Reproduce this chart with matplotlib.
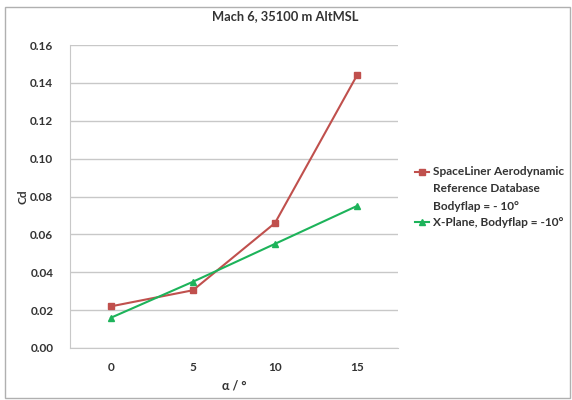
import matplotlib
matplotlib.use("Agg")
import matplotlib.pyplot as plt
from matplotlib.lines import Line2D
from matplotlib.patches import Rectangle

# angle of attack categories and drag coefficients
alpha = ["0", "5", "10", "15"]
cd_spaceliner = [0.022, 0.0305, 0.066, 0.144]
cd_xplane = [0.016, 0.035, 0.055, 0.075]
yticks = [0.00, 0.02, 0.04, 0.06, 0.08, 0.10, 0.12, 0.14, 0.16]

red = "#C0504D"
green = "#1DB35A"
txt = "#333333"
plt.rcParams["font.family"] = ["Lato", "DejaVu Sans"]
plt.rcParams["font.weight"] = "bold"

fig = plt.figure(figsize=(5.72, 4.0), dpi=100)
W, H = 572.0, 400.0
ax = fig.add_axes([70 / W, 1 - 348 / H, 328 / W, 303 / H])

xs = list(range(len(alpha)))
ax.plot(xs, cd_spaceliner, color=red, lw=1.5, marker="s", ms=5)
ax.plot(xs, cd_xplane, color=green, lw=1.5, marker="^", ms=5)

ax.set_xlim(-0.5, len(alpha) - 0.5)
ax.set_ylim(0, 0.16)
ax.set_yticks(yticks)
ax.set_yticklabels(["%.2f" % v for v in yticks])
ax.set_xticks(xs)
ax.set_xticklabels(alpha)
ax.grid(axis="y", color="#c8c8c8", lw=1)
ax.set_axisbelow(True)
for s in ["top", "right"]:
    ax.spines[s].set_visible(False)
ax.spines["left"].set_color("#c8c8c8")
ax.spines["bottom"].set_color("#c8c8c8")
ax.tick_params(axis="both", length=0, labelsize=8.5, labelcolor=txt)
ax.tick_params(axis="y", pad=12)
ax.tick_params(axis="x", pad=10)
ax.set_ylabel("Cd", fontsize=8.5, color=txt, labelpad=1, fontweight="bold")
ax.set_xlabel("α / °", fontsize=9, color=txt, labelpad=5, fontweight="bold")

fig.text(285 / W, 1 - 16 / H, "Mach 6, 35100 m AltMSL", ha="center", va="center",
         fontsize=9.3, fontweight="bold", color=txt)

# legend, drawn by hand
def leg_item(y, color, marker, lines):
    fig.add_artist(Line2D([415 / W, 429 / W], [1 - y / H, 1 - y / H], color=color, lw=1.5,
                          transform=fig.transFigure))
    fig.add_artist(Line2D([422 / W], [1 - y / H], color=color, marker=marker, ms=4,
                          transform=fig.transFigure))
    for i, t in enumerate(lines):
        fig.text(433 / W, 1 - (y + i * 17) / H, t, ha="left", va="center",
                 fontsize=8.6, fontweight="bold", color=txt)

leg_item(172, red, "s", ["SpaceLiner Aerodynamic", "Reference Database", "Bodyflap = - 10°"])
leg_item(222, green, "^", ["X-Plane, Bodyflap = -10°"])

fig.add_artist(Rectangle((5 / W, 1 - 398 / H), 565 / W, 391 / H, transform=fig.transFigure,
                         fill=False, edgecolor="#b0b0b0", lw=1))

fig.savefig("out.png", dpi=100)
